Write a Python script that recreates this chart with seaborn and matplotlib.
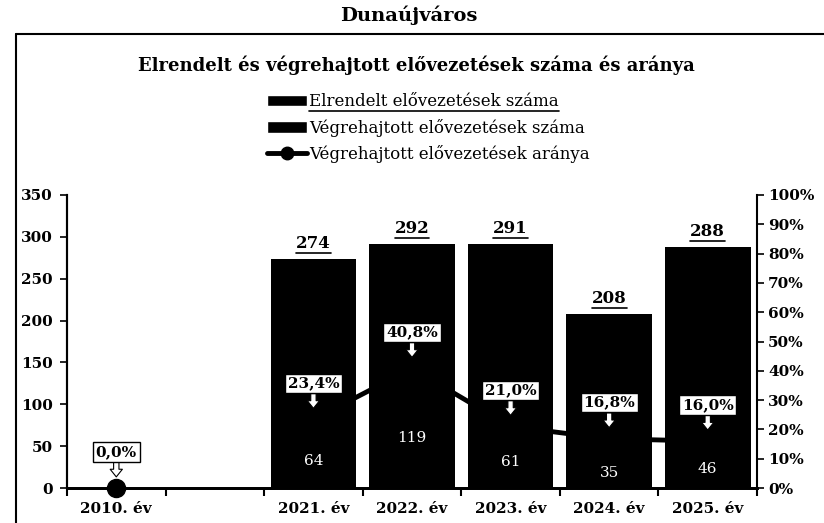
import numpy as np
import pandas as pd
import matplotlib.pyplot as plt
import seaborn as sns
from matplotlib.patches import Patch
from matplotlib.lines import Line2D
from matplotlib.ticker import FuncFormatter, MultipleLocator

years = ['2010. év', ' ', '2021. év', '2022. év', '2023. év', '2024. év', '2025. év']
elrendelt = [np.nan, np.nan, 274, 292, 291, 208, 288]
vegrehajtott = [np.nan, np.nan, 64, 119, 61, 35, 46]
arany = [0.0, np.nan, 23.4, 40.8, 21.0, 16.8, 16.0]

lab_elr = 'Elrendelt elővezetések száma'
lab_veg = 'Végrehajtott elővezetések száma'
lab_ar = 'Végrehajtott elővezetések aránya'

df = pd.DataFrame({'ev': years * 2,
                   'db': elrendelt + vegrehajtott,
                   'sor': [lab_elr] * 7 + [lab_veg] * 7}).dropna()

sns.set_style('ticks')
plt.rcParams['font.family'] = ['DejaVu Serif']
plt.rcParams.update({'text.color': 'black', 'axes.labelcolor': 'black',
                     'xtick.color': 'black', 'ytick.color': 'black', 'axes.edgecolor': 'black'})

fig = plt.figure(figsize=(8.24, 5.23), dpi=100)
ax = fig.add_axes([67/824, 1-488/523, (757-67)/824, (488-195)/523])

sns.barplot(data=df, x='ev', y='db', hue='sor', order=years, dodge=False,
            palette=['black', 'black'], saturation=1, width=0.87, ax=ax, legend=False,
            edgecolor='black', linewidth=0)

ax2 = ax.twinx()
ax2.plot(range(len(years)), arany, color='black', lw=3.5, marker='o', ms=13, clip_on=False)
ax.set_zorder(ax2.get_zorder() + 1)
ax.patch.set_visible(False)

ax.set_xlim(-0.5, len(years) - 0.5)
ax.set_ylim(0, 350)
ax.yaxis.set_major_locator(MultipleLocator(50))
ax2.set_ylim(0, 100)
ax2.yaxis.set_major_locator(MultipleLocator(10))
ax2.yaxis.set_major_formatter(FuncFormatter(lambda v, p: f'{v:.0f}%'))
ax.set_xlabel('')
ax.set_ylabel('')

ax.set_xticks(list(np.arange(len(years)) - 0.5) + [len(years) - 0.5], minor=True)
ax.tick_params(axis='x', which='major', length=0, pad=10, labelsize=11)
ax.tick_params(axis='x', which='minor', length=6, width=1.5, direction='out')
ax.tick_params(axis='y', length=5, width=1.2, labelsize=11, pad=5)
ax2.tick_params(axis='y', length=5, width=1.2, labelsize=11, pad=3)
for t in ax.get_xticklabels() + ax.get_yticklabels() + ax2.get_yticklabels():
    t.set_fontweight('bold')

for a in (ax, ax2):
    a.spines['top'].set_visible(False)
    a.spines['left'].set_linewidth(1.5)
    a.spines['right'].set_linewidth(1.5)
    a.spines['bottom'].set_linewidth(2)
ax.spines['right'].set_visible(False)

# darab cimkek
top_labels = ax.bar_label(ax.containers[0], labels=[f'{b.get_height():.0f}' for b in ax.containers[0]],
                          padding=5, fontsize=12, fontweight='bold')
ax.bar_label(ax.containers[1], labels=[f'{b.get_height():.0f}' for b in ax.containers[1]],
             label_type='center', color='white', fontsize=11)

# arany cimkek
for i, p in enumerate(arany):
    if np.isnan(p):
        continue
    ax.annotate(f'{p:.1f}%'.replace('.', ','), xy=(i, p), xycoords=ax2.transData,
                xytext=(0, 26), textcoords='offset points', ha='center', va='center',
                fontsize=11, fontweight='bold',
                bbox=dict(boxstyle='square,pad=0.18', fc='white', ec='black', lw=1),
                arrowprops=dict(arrowstyle='simple,head_width=0.8,head_length=0.5,tail_width=0.35',
                                fc='white', ec='black', lw=0.8, shrinkA=0, shrinkB=8))

handles = [Patch(fc='black'), Patch(fc='black'),
           Line2D([], [], color='black', lw=3.5, marker='o', ms=9)]
leg = fig.legend(handles, [lab_elr, lab_veg, lab_ar], loc='center', bbox_to_anchor=(0.52, 0.755),
                 frameon=False, fontsize=12, handlelength=2.4, handletextpad=0.1, labelspacing=0.5)

fig.text(0.496, 1-15/523, 'Dunaújváros', ha='center', va='center', fontsize=14, fontweight='bold')
fig.text(0.505, 1-65/523, 'Elrendelt és végrehajtott elővezetések száma és aránya',
         ha='center', va='center', fontsize=13, fontweight='bold')

# keret
fig.add_artist(Line2D([16/824, 1], [1-34/523, 1-34/523], color='black', lw=1.5))
fig.add_artist(Line2D([16/824, 16/824], [0, 1-34/523], color='black', lw=1.5))

# alahuzasok
fig.canvas.draw()
r = fig.canvas.get_renderer()
for t in top_labels + [leg.get_texts()[0]]:
    bb = t.get_window_extent(r)
    y = (bb.y0 - 1) / fig.bbox.height
    fig.add_artist(Line2D([bb.x0 / fig.bbox.width, bb.x1 / fig.bbox.width], [y, y], color='black', lw=1.2))

fig.savefig('out.png', dpi=100)
